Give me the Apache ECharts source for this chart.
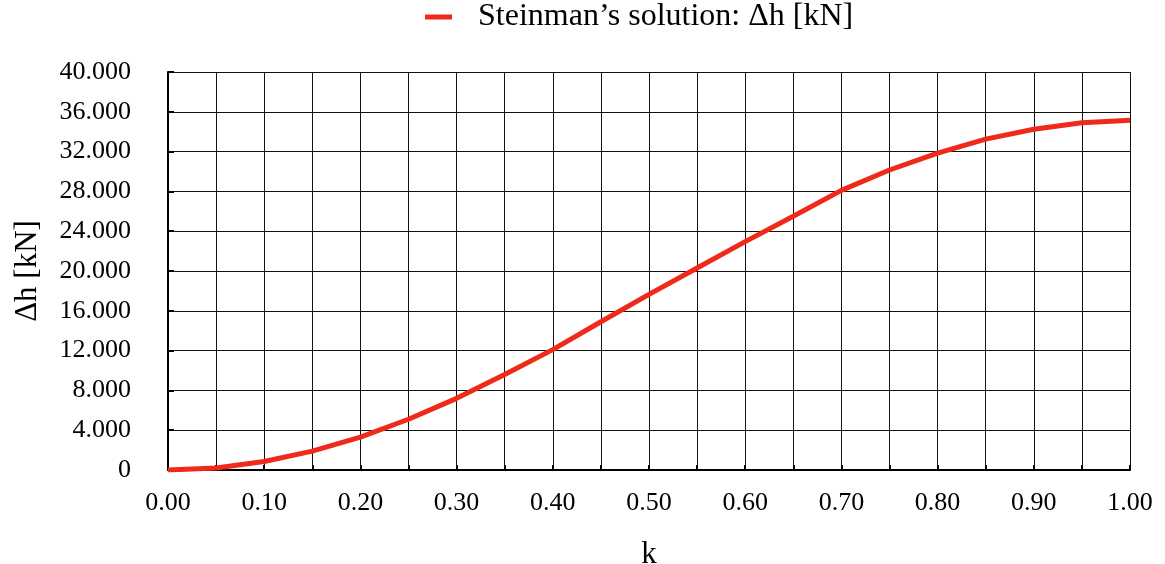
<!DOCTYPE html>
<html>
<head>
<meta charset="utf-8">
<script src="https://cdn.jsdelivr.net/npm/echarts@6/dist/echarts.min.js"></script>
<style>
  html, body { margin: 0; padding: 0; background: #fff; }
  #chart { width: 1165px; height: 564px; }
</style>
</head>
<body>
<div id="chart"></div>
<script>
// k values (relative position) and Steinman's solution Δh in kN
const kValues = [0.00, 0.05, 0.10, 0.15, 0.20, 0.25, 0.30, 0.35, 0.40, 0.45, 0.50,
                 0.55, 0.60, 0.65, 0.70, 0.75, 0.80, 0.85, 0.90, 0.95, 1.00];
const deltaH = [0.0, 0.2, 0.85, 1.9, 3.3, 5.1, 7.2, 9.6, 12.1, 14.9, 17.65,
                20.3, 22.95, 25.5, 28.1, 30.15, 31.85, 33.25, 34.25, 34.9, 35.15];
const seriesName = 'Steinman\u2019s solution: \u0394h [kN]';
const xAxisTitle = 'k';
const yAxisTitle = '\u0394h [kN]';

const FONT = '"Liberation Serif", "DejaVu Serif", serif';
const points = kValues.map((k, i) => [k, deltaH[i]]);

const chart = echarts.init(document.getElementById('chart'), null, { renderer: 'canvas' });
chart.setOption({
  animation: false,
  backgroundColor: '#ffffff',
  textStyle: { fontFamily: FONT, color: '#000' },
  legend: {
    data: [{ name: seriesName, icon: 'rect' }],
    left: 425,
    top: 1,
    padding: 0,
    itemWidth: 27,
    itemHeight: 5,
    textStyle: { fontFamily: FONT, fontSize: 32, color: '#000', padding: [7, 0, 0, 21] }
  },
  grid: { left: 168, right: 35, top: 72, bottom: 94, containLabel: false, outerBoundsMode: 'none' },
  xAxis: {
    type: 'value',
    min: 0,
    max: 1,
    interval: 0.05,
    name: xAxisTitle,
    nameLocation: 'middle',
    nameGap: 69,
    nameTextStyle: { fontFamily: FONT, fontSize: 31, color: '#000' },
    axisLine: { show: true, onZero: false, lineStyle: { color: '#000', width: 2 } },
    axisTick: { show: true, inside: true, length: 5, lineStyle: { color: '#000', width: 2 } },
    axisLabel: {
      fontFamily: FONT, fontSize: 26, color: '#000', margin: 20,
      formatter: v => (Math.round(v * 100) % 10 === 0 ? v.toFixed(2) : '')
    },
    splitLine: { show: true, lineStyle: { color: '#111', width: 1 } }
  },
  yAxis: {
    type: 'value',
    min: 0,
    max: 40,
    interval: 4,
    name: yAxisTitle,
    nameLocation: 'middle',
    nameGap: 125,
    nameRotate: 90,
    nameTextStyle: { fontFamily: FONT, fontSize: 31, color: '#000' },
    axisLine: { show: true, onZero: false, lineStyle: { color: '#000', width: 2 } },
    axisTick: { show: true, inside: true, length: 6, lineStyle: { color: '#000', width: 2 } },
    axisLabel: {
      fontFamily: FONT, fontSize: 26, color: '#000', margin: 37,
      formatter: v => (v === 0 ? '0' : v.toFixed(3))
    },
    splitLine: { show: true, lineStyle: { color: '#111', width: 1 } }
  },
  series: [{
    name: seriesName,
    type: 'line',
    data: points,
    showSymbol: false,
    symbol: 'none',
    smooth: false,
    lineStyle: { color: '#EF2A1A', width: 5 },
    itemStyle: { color: '#EF2A1A' }
  }]
});
</script>
</body>
</html>
